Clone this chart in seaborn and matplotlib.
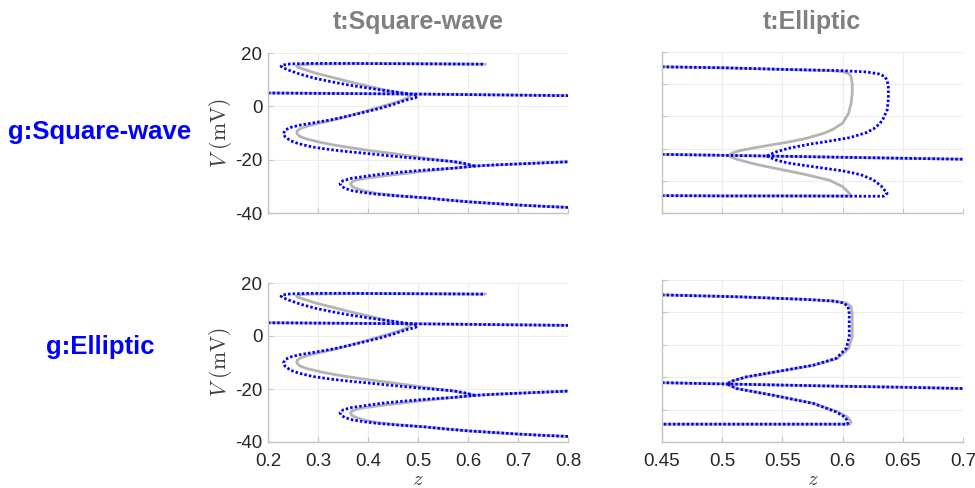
import numpy as np
import pandas as pd
import matplotlib
matplotlib.use("Agg")
import matplotlib.pyplot as plt
import seaborn as sns

# ---------------- data: z (x) versus V in mV (y) ----------------
# square-wave target (left column): dotted branches
sqw_dot_upper_z = [0.630, 0.55, 0.45, 0.35, 0.28, 0.245, 0.230, 0.226, 0.232, 0.241, 0.265, 0.294,
                   0.33, 0.361, 0.395, 0.427, 0.455, 0.474, 0.490, 0.499, 0.495, 0.477, 0.45, 0.427,
                   0.395, 0.361, 0.33, 0.294, 0.265, 0.247, 0.235, 0.231, 0.234, 0.245, 0.261, 0.29,
                   0.327, 0.36, 0.394, 0.43, 0.461, 0.514, 0.571, 0.595, 0.614]
sqw_dot_upper_v = [15.8, 15.9, 16.0, 16.1, 16.1, 15.9, 15.5, 15.0, 14.3, 13.6, 12.0, 10.5,
                   9.1, 8.0, 7.0, 6.1, 5.4, 4.9, 4.5, 4.0, 3.2, 2.4, 0.7, -0.6,
                   -2.1, -3.6, -4.9, -6.1, -7.0, -7.8, -8.8, -10.1, -11.4, -12.9, -14.0, -15.3,
                   -16.3, -17.0, -17.6, -18.3, -18.9, -19.8, -20.7, -21.5, -22.4]
sqw_dot_lower_z = [0.80, 0.75, 0.70, 0.65, 0.60, 0.55, 0.514, 0.46, 0.42, 0.394, 0.370, 0.354,
                   0.346, 0.344, 0.350, 0.367, 0.40, 0.427, 0.47, 0.514, 0.57, 0.614, 0.65, 0.70,
                   0.75, 0.80]
sqw_dot_lower_v = [-37.9, -37.5, -37.0, -36.4, -35.8, -35.0, -34.3, -33.6, -33.0, -32.4, -31.7, -30.8,
                   -29.8, -28.9, -27.9, -27.0, -26.1, -25.4, -24.6, -23.9, -23.2, -22.4, -22.0, -21.6,
                   -21.2, -20.8]
sqw_flat_z = [0.20, 0.35, 0.50, 0.65, 0.80]
sqw_flat_v = [5.0, 4.8, 4.6, 4.3, 4.0]

# square-wave target: solid branches
sqw_solid_upper_z = [0.635, 0.55, 0.45, 0.38, 0.32, 0.285, 0.265, 0.257, 0.259, 0.265, 0.28, 0.294,
                     0.33, 0.361, 0.395, 0.427, 0.45, 0.468, 0.480, 0.484, 0.480, 0.461, 0.43,
                     0.394, 0.36, 0.327, 0.30, 0.281, 0.266, 0.258, 0.258, 0.264, 0.278, 0.307,
                     0.335, 0.361, 0.40, 0.45, 0.514, 0.571, 0.614, 0.70, 0.80]
sqw_solid_upper_v = [15.8, 15.9, 16.0, 16.0, 15.9, 15.8, 15.6, 15.2, 14.7, 14.3, 13.4, 12.5,
                     10.8, 9.3, 7.8, 6.4, 5.5, 4.8, 4.3, 3.9, 3.2, 1.8, 0.1,
                     -1.9, -3.7, -5.3, -6.4, -7.3, -8.2, -9.2, -10.3, -11.3, -12.3, -13.6,
                     -14.6, -15.4, -16.5, -17.7, -19.4, -20.8, -22.4, -21.6, -20.8]
sqw_solid_lower_z = [0.80, 0.70, 0.60, 0.514, 0.46, 0.42, 0.394, 0.378, 0.368, 0.365, 0.368,
                     0.378, 0.394, 0.44, 0.50, 0.56, 0.614]
sqw_solid_lower_v = [-37.9, -37.0, -35.8, -34.3, -33.5, -32.7, -31.8, -30.9, -30.0, -29.1, -28.3,
                     -27.6, -27.0, -25.9, -24.6, -23.4, -22.4]

# elliptic target, top row: dotted branches
ell1_dot_upper_z = [0.45, 0.50, 0.55, 0.60, 0.620, 0.630, 0.635, 0.637, 0.638, 0.638, 0.637, 0.634,
                    0.631, 0.626, 0.620, 0.606, 0.587, 0.573, 0.555, 0.545, 0.537]
ell1_dot_upper_v = [10.4, 10.1, 9.6, 9.2, 8.8, 8.2, 7.4, 6.2, 4.0, 0.5, -3.0, -5.5,
                    -7.2, -8.8, -10.0, -11.6, -12.8, -13.6, -14.9, -16.0, -17.3]
ell1_dot_lower_z = [0.537, 0.545, 0.555, 0.577, 0.600, 0.615, 0.625, 0.632, 0.637, 0.634, 0.62,
                    0.55, 0.50, 0.45]
ell1_dot_lower_v = [-17.3, -18.6, -19.5, -20.7, -21.9, -23.1, -24.6, -26.6, -28.9, -29.8, -29.8,
                    -29.7, -29.7, -29.6]
ell1_flat_z = [0.45, 0.537, 0.60, 0.65, 0.70]
ell1_flat_v = [-16.8, -17.3, -17.7, -18.0, -18.3]

# elliptic target, top row: solid branch
ell1_solid_z = [0.45, 0.50, 0.55, 0.59, 0.600, 0.605, 0.607, 0.608, 0.608, 0.607, 0.605, 0.600,
                0.592, 0.584, 0.570, 0.556, 0.540, 0.529, 0.515, 0.509, 0.505, 0.512, 0.525,
                0.537, 0.565, 0.589, 0.600, 0.606, 0.607, 0.58, 0.50, 0.45]
ell1_solid_v = [10.4, 10.1, 9.6, 9.2, 8.9, 8.3, 7.4, 5.0, 2.0, -1.0, -4.0, -7.1,
                -9.0, -10.3, -11.8, -12.9, -13.9, -14.6, -15.6, -16.3, -17.2, -18.3, -19.6,
                -20.6, -22.7, -24.8, -26.8, -29.0, -29.7, -29.7, -29.7, -29.6]

# elliptic target, bottom row
ell2_dot_z = [0.45, 0.5145, 0.570, 0.592, 0.601, 0.6045, 0.6055, 0.6055, 0.6055, 0.603, 0.5945,
              0.5755, 0.548, 0.520, 0.508, 0.504, 0.512, 0.5425, 0.5755, 0.5945, 0.602, 0.6045,
              0.604, 0.58, 0.50, 0.45]
ell2_dot_v = [10.4, 9.8, 9.0, 8.5, 7.9, 6.8, 4.7, 1.0, -2.5, -6.1, -9.2,
              -11.3, -13.1, -14.9, -16.2, -17.1, -18.5, -20.6, -23.1, -25.7, -27.3, -28.8,
              -29.5, -29.5, -29.5, -29.5]
ell2_solid_z = [0.45, 0.5145, 0.570, 0.593, 0.603, 0.607, 0.608, 0.608, 0.608, 0.605, 0.596,
                0.5765, 0.549, 0.521, 0.508, 0.504, 0.512, 0.543, 0.5765, 0.596, 0.604, 0.607,
                0.606, 0.58, 0.50, 0.45]
ell2_solid_v = ell2_dot_v
ell2_flat_z = [0.45, 0.504, 0.60, 0.65, 0.70]
ell2_flat_v = [-16.7, -17.1, -17.8, -18.1, -18.5]

col_titles = ["t:Square-wave", "t:Elliptic"]
row_titles = ["g:Square-wave", "g:Elliptic"]
left_xticks = [0.2, 0.3, 0.4, 0.5, 0.6, 0.7, 0.8]
left_xlabels = ["0.2", "0.3", "0.4", "0.5", "0.6", "0.7", "0.8"]
left_yticks = [-40, -20, 0, 20]
right_xticks = [0.45, 0.5, 0.55, 0.6, 0.65, 0.7]
right_xlabels = ["0.45", "0.5", "0.55", "0.6", "0.65", "0.7"]
right_yticks = [-35, -25, -15, -5, 5, 15]

# ---------------- styling ----------------
sns.set_theme(style="white")
plt.rcParams["font.family"] = ["Liberation Sans", "DejaVu Sans"]
plt.rcParams["mathtext.fontset"] = "cm"

BLUE = "#0000ff"
GREY = "#b4b4b4"
TICK_TXT = "#262626"
SPINE = "#c4c4c4"
GRID = "#ececec"

fig = plt.figure(figsize=(9.75, 4.88), dpi=100)
W, H = 975.0, 488.0


def box(x0, y0, x1, y1):
    return [x0 / W, 1 - y1 / H, (x1 - x0) / W, (y1 - y0) / H]


ax_tl = fig.add_axes(box(268, 53, 568, 213))
ax_bl = fig.add_axes(box(268, 283, 568, 442))
ax_tr = fig.add_axes(box(662, 52, 963, 213))
ax_br = fig.add_axes(box(662, 280, 963, 442))


def frame(pairs):
    rows = []
    for k, (zs, vs) in enumerate(pairs):
        for z, v in zip(zs, vs):
            rows.append((k, z, v))
    return pd.DataFrame(rows, columns=["seg", "z", "V"])


def draw(ax, solid, dotted):
    sns.lineplot(data=frame(solid), x="z", y="V", units="seg", estimator=None,
                 sort=False, color=GREY, lw=2.0, ax=ax, legend=False,
                 solid_capstyle="round", solid_joinstyle="round")
    sns.lineplot(data=frame(dotted), x="z", y="V", units="seg", estimator=None,
                 sort=False, color=BLUE, lw=2.0, linestyle=(0, (0.9, 0.75)),
                 ax=ax, legend=False)


left_solid = [(sqw_solid_upper_z, sqw_solid_upper_v), (sqw_solid_lower_z, sqw_solid_lower_v),
              (sqw_flat_z, sqw_flat_v)]
left_dotted = [(sqw_dot_upper_z, sqw_dot_upper_v), (sqw_dot_lower_z, sqw_dot_lower_v),
               (sqw_flat_z, sqw_flat_v)]
draw(ax_tl, left_solid, left_dotted)
draw(ax_bl, left_solid, left_dotted)

draw(ax_tr, [(ell1_solid_z, ell1_solid_v), (ell1_flat_z, ell1_flat_v)],
     [(ell1_dot_upper_z, ell1_dot_upper_v), (ell1_dot_lower_z, ell1_dot_lower_v),
      (ell1_flat_z, ell1_flat_v)])
draw(ax_br, [(ell2_solid_z, ell2_solid_v), (ell2_flat_z, ell2_flat_v)],
     [(ell2_dot_z, ell2_dot_v), (ell2_flat_z, ell2_flat_v)])


def style(ax, xticks, xlabels, yticks, xlim, ylim, show_x, show_y):
    ax.set_xlim(*xlim)
    ax.set_ylim(*ylim)
    ax.set_xticks(xticks)
    ax.set_yticks(yticks)
    ax.set_xticklabels(xlabels if show_x else [])
    ax.set_yticklabels([str(t) for t in yticks] if show_y else [])
    ax.grid(True, color=GRID, lw=0.8)
    ax.set_axisbelow(True)
    for s in ("top", "right"):
        ax.spines[s].set_visible(False)
    for s in ("left", "bottom"):
        ax.spines[s].set_color(SPINE)
        ax.spines[s].set_linewidth(1.0)
    ax.tick_params(direction="in", length=3.5, width=0.8, color=SPINE,
                   labelsize=13.5, labelcolor=TICK_TXT, bottom=True, left=True)
    ax.tick_params(axis="x", pad=8)
    ax.tick_params(axis="y", pad=4)
    ax.set_xlabel("")
    ax.set_ylabel("")
    if show_x:
        ax.set_xlabel(r"$z$", fontsize=15, color="#404040", labelpad=0)
    if show_y:
        ax.set_ylabel(r"$V\ (\mathrm{mV})$", fontsize=15.5, color="#404040", labelpad=1)


style(ax_tl, left_xticks, left_xlabels, left_yticks, (0.2, 0.8), (-40, 20), False, True)
style(ax_bl, left_xticks, left_xlabels, left_yticks, (0.2, 0.8), (-40, 20), True, True)
style(ax_tr, right_xticks, right_xlabels, right_yticks, (0.45, 0.7), (-35, 15), False, False)
style(ax_br, right_xticks, right_xlabels, right_yticks, (0.45, 0.7), (-35, 15), True, False)

# column and row headings
fig.text(418 / W, 1 - 22 / H, col_titles[0], ha="center", va="center",
         fontsize=18, fontweight="bold", color="#808080")
fig.text(812 / W, 1 - 22 / H, col_titles[1], ha="center", va="center",
         fontsize=18, fontweight="bold", color="#808080")
fig.text(100 / W, 1 - 132 / H, row_titles[0], ha="center", va="center",
         fontsize=18.5, fontweight="bold", color=BLUE)
fig.text(100 / W, 1 - 347 / H, row_titles[1], ha="center", va="center",
         fontsize=18.5, fontweight="bold", color=BLUE)

fig.savefig("out.png", dpi=100, facecolor="white")
